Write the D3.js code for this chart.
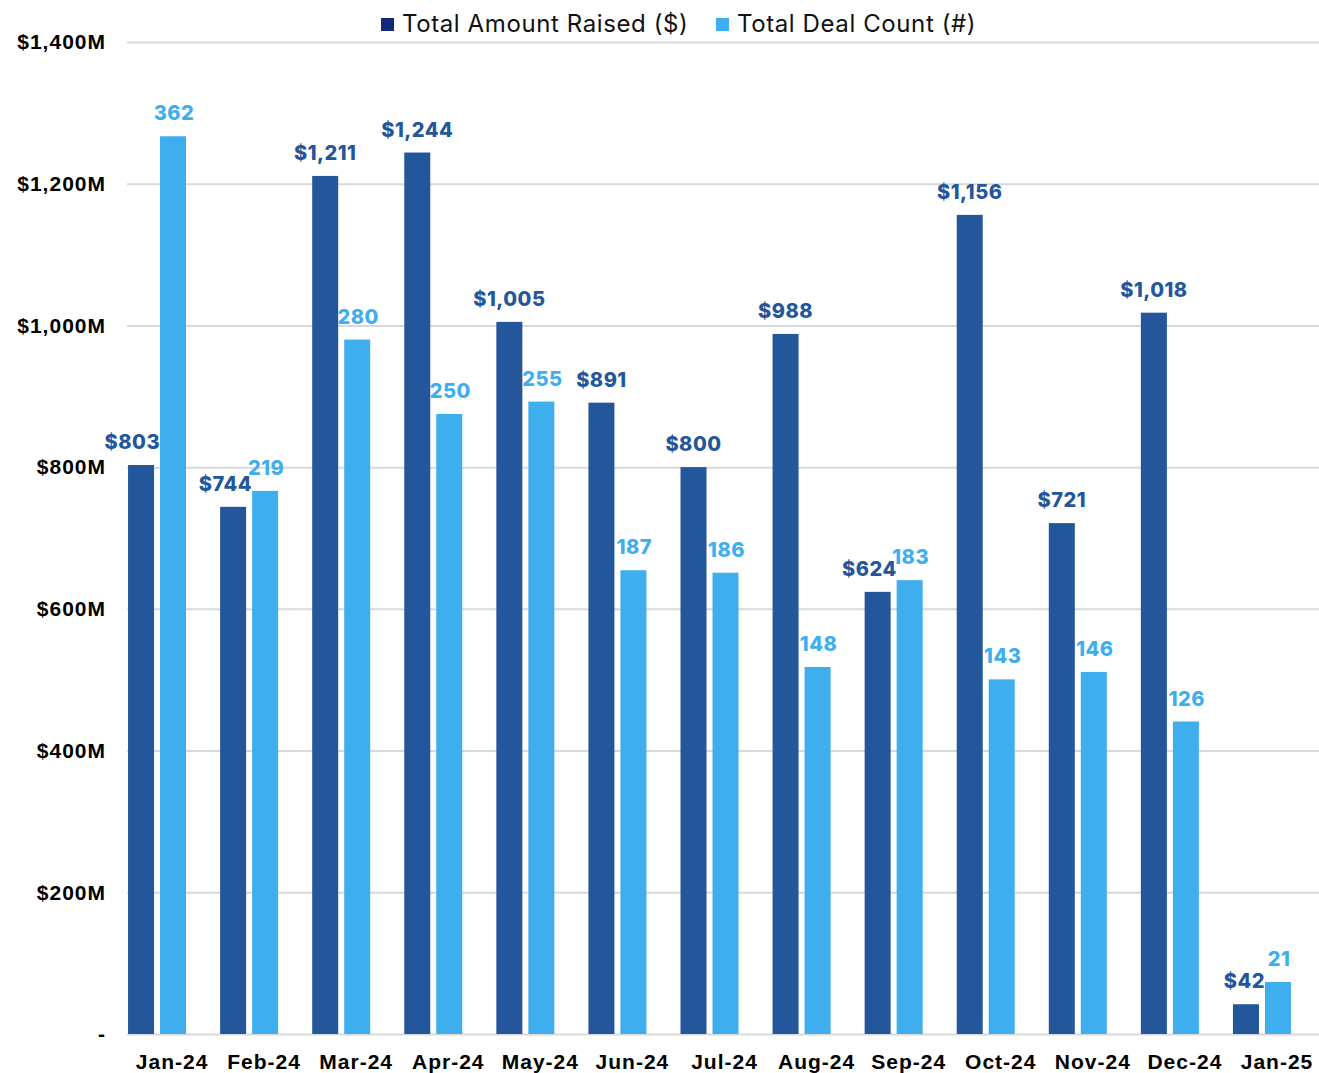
<!DOCTYPE html>
<html>
<head>
<meta charset="utf-8">
<script src="https://cdn.jsdelivr.net/npm/d3@7"></script>
<style>
	body { margin: 0; background: #fff; }
	svg { display: block; font-family: Inter, "Open Sans", sans-serif; }
</style>
</head>
<body>
<div id="chart"></div>
<script>
const months = ['Jan-24', 'Feb-24', 'Mar-24', 'Apr-24', 'May-24', 'Jun-24', 'Jul-24', 'Aug-24', 'Sep-24', 'Oct-24', 'Nov-24', 'Dec-24', 'Jan-25']
const amountRaised = [803, 744, 1211, 1244, 1005, 891, 800, 988, 624, 1156, 721, 1018, 42]
const dealCount = [362, 219, 280, 250, 255, 187, 186, 148, 183, 143, 146, 126, 21]
const yTicks = [0, 200, 400, 600, 800, 1000, 1200, 1400]
const legendLabels = ['Total Amount Raised ($)', 'Total Deal Count (#)']

const width = 1319, height = 1073
const darkBlue = '#23569b', lightBlue = '#3faeee', legendDark = '#12297a'
const plotLeft = 127, plotRight = 1319, plotTop = 42, plotBottom = 1034

const svg = d3.select('#chart')
	.append('svg')
	.attr('width', width)
	.attr('height', height)

const x0 = d3.scaleBand()
	.domain(months)
	.range([111, 1308])
	.paddingInner(0.37)
	.paddingOuter(0.185)

const x1 = d3.scaleBand()
	.domain(['amt', 'cnt'])
	.range([0, x0.bandwidth()])
	.paddingInner(0.1875)

// labels sit a bit right of the bar pairs in the original
const xLabels = x0.copy().range([126, 1323])

const yAmt = d3.scaleLinear().domain([0, 1400]).range([plotBottom, plotTop])
const yCnt = d3.scaleLinear().domain([0, 400]).range([plotBottom, plotTop])

// gridlines + left axis labels
const yAxis = svg.append('g')
	.attr('transform', `translate(${plotLeft},0)`)
	.call(d3.axisLeft(yAmt)
		.tickValues(yTicks)
		.tickSize(-(plotRight - plotLeft))
		.tickPadding(21)
		.tickFormat(d => d === 0 ? '-' : '$' + d3.format(',')(d) + 'M'))
yAxis.select('.domain').remove()
yAxis.selectAll('line').attr('stroke', '#d9d9d9').attr('stroke-width', 2)
yAxis.selectAll('text')
	.attr('fill', '#000')
	.style('font-size', '21px')
	.style('font-weight', 800)
	.style('letter-spacing', '1px')

const xAxis = svg.append('g')
	.attr('transform', `translate(0,${plotBottom})`)
	.call(d3.axisBottom(xLabels).tickSize(0).tickPadding(20))
xAxis.select('.domain').remove()
xAxis.selectAll('text')
	.attr('fill', '#000')
	.style('font-size', '21px')
	.style('font-weight', 800)
	.style('letter-spacing', '1px')

const groups = svg.append('g')
	.selectAll('g')
	.data(months)
	.join('g')
	.attr('transform', d => `translate(${x0(d)},0)`)

groups.append('rect')
	.attr('x', x1('amt'))
	.attr('y', (d, i) => yAmt(amountRaised[i]))
	.attr('width', x1.bandwidth())
	.attr('height', (d, i) => plotBottom - yAmt(amountRaised[i]))
	.attr('fill', darkBlue)

groups.append('rect')
	.attr('x', x1('cnt'))
	.attr('y', (d, i) => yCnt(dealCount[i]))
	.attr('width', x1.bandwidth())
	.attr('height', (d, i) => plotBottom - yCnt(dealCount[i]))
	.attr('fill', lightBlue)

groups.append('text')
	.attr('class', 'cnt-label')
	.attr('x', x1('cnt') + x1.bandwidth() / 2 + 1)
	.attr('y', (d, i) => yCnt(dealCount[i]) - 16)
	.attr('text-anchor', 'middle')
	.attr('fill', lightBlue)
	.style('font-size', '20px')
	.style('font-weight', 800)
	.style('letter-spacing', '0.5px')
	.text((d, i) => dealCount[i])

groups.append('text')
	.attr('class', 'amt-label')
	.attr('x', x1('amt') + x1.bandwidth() / 2)
	.attr('y', (d, i) => yAmt(amountRaised[i]) - 16)
	.attr('text-anchor', 'middle')
	.attr('fill', darkBlue)
	.style('font-size', '20px')
	.style('font-weight', 800)
	.style('letter-spacing', '0.5px')
	.text((d, i) => '$' + d3.format(',')(amountRaised[i]))
	.each(function(d, i) {
		// push label left when it would run into the neighbouring light bar
		const box = this.getBBox()
		const lightLeft = x1('cnt')
		if (box.y + box.height > yCnt(dealCount[i]) && box.x + box.width > lightLeft) {
			const shift = box.x + box.width - lightLeft
			d3.select(this).attr('x', x1('amt') + x1.bandwidth() / 2 - shift)
		}
	})

// legend
const legend = svg.append('g').attr('transform', 'translate(381,24)')
const legendX = [0, 335]
legendLabels.forEach((lab, i) => {
	const g = legend.append('g').attr('transform', `translate(${legendX[i]},0)`)
	g.append('rect')
		.attr('x', 0).attr('y', -6)
		.attr('width', 13).attr('height', 13)
		.attr('fill', i === 0 ? legendDark : lightBlue)
	g.append('text')
		.attr('x', 21).attr('y', 8)
		.attr('fill', '#111')
		.style('font-size', '24px')
		.style('letter-spacing', '0.6px')
		.text(lab)
})
</script>
</body>
</html>
